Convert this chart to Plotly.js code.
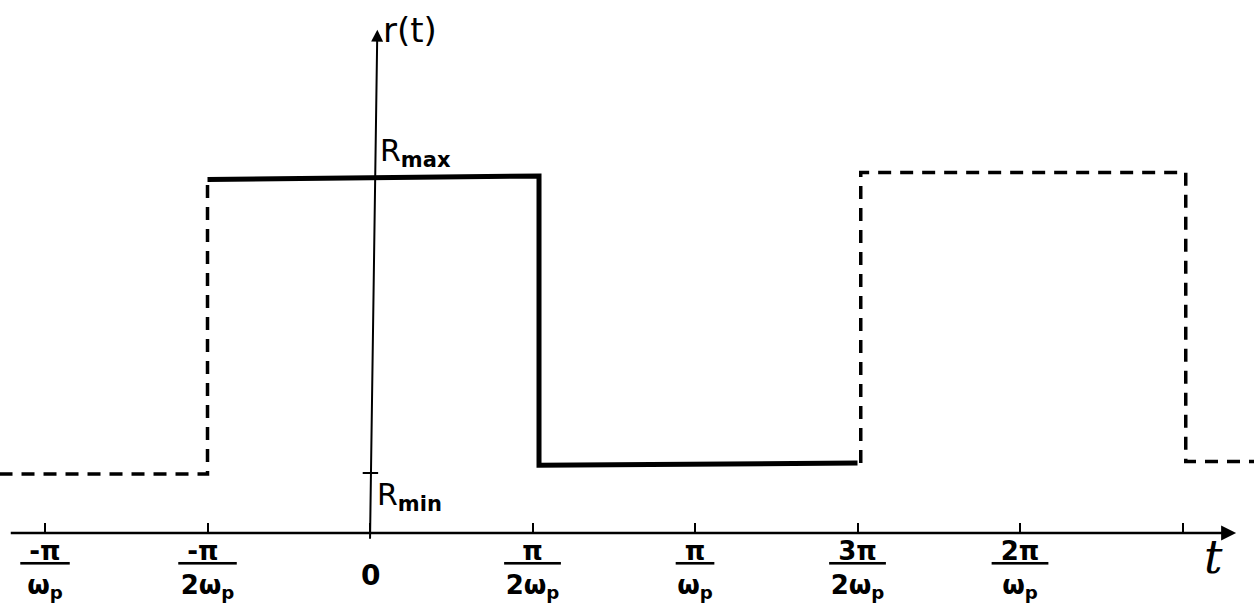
<!DOCTYPE html>
<html>
<head>
<meta charset="utf-8">
<script src="https://cdn.plot.ly/plotly-3.0.1.min.js"></script>
<style>
  html, body { margin: 0; padding: 0; background: #fff; }
  #chart { width: 1254px; height: 610px; }
</style>
</head>
<body>
<div id="chart"></div>
<script>
// time in units of pi/(2*omega_p); r(t) normalised so R_max ~ 1
const solidT = [-1.0, 1.04, 1.04, 3.0];
const solidR = [0.99, 1.0, 0.19, 0.196];
const leftDashT = [-2.28, -1.0, -1.0];
const leftDashR = [0.165, 0.165, 0.99];
const rightDashT = [3.02, 3.02, 5.02, 5.02, 5.45];
const rightDashR = [0.196, 1.01, 1.01, 0.2, 0.2];

const tickVals = [-2, -1, 0, 1, 2, 3, 4, 5];
const NB = '\u00A0';
const tickText = [
  '<u>' + NB + '-π' + NB + '</u><br>ω<sub>p</sub>',
  '<u>' + NB + '-π' + NB + NB + '</u><br>2ω<sub>p</sub>',
  '',
  '<u>' + NB + NB + 'π' + NB + NB + '</u><br>2ω<sub>p</sub>',
  '<u>' + NB + 'π' + NB + '</u><br>ω<sub>p</sub>',
  '<u>' + NB + '3π' + NB + '</u><br>2ω<sub>p</sub>',
  '<u>' + NB + '2π' + NB + '</u><br>ω<sub>p</sub>',
  ''
];
const Rmin = 0.168;
const Rmax = 1.0;
const axisTop = 1.41;
const axisRight = 5.33;
const axisLeft = -2.22;

const xRange = [-2.277, 5.44];
const yRange = [-0.2157, 1.493];
const xAxisPos = -yRange[0] / (yRange[1] - yRange[0]);

const traces = [
  { x: leftDashT, y: leftDashR, mode: 'lines', line: { color: '#000', width: 3.5, dash: '13px,9px' }, hoverinfo: 'skip' },
  { x: rightDashT, y: rightDashR, mode: 'lines', line: { color: '#000', width: 3.5, dash: '13px,9px' }, hoverinfo: 'skip' },
  { x: solidT, y: solidR, mode: 'lines', line: { color: '#000', width: 5 }, hoverinfo: 'skip' }
];

const labelFont = { family: 'DejaVu Sans', size: 26, color: '#000', weight: 'bold' };

const layout = {
  width: 1254, height: 610,
  margin: { l: 0, r: 0, t: 0, b: 0 },
  paper_bgcolor: '#fff', plot_bgcolor: '#fff',
  showlegend: false,
  xaxis: {
    range: xRange, anchor: 'free', position: xAxisPos,
    showgrid: false, zeroline: false, showline: false,
    tickmode: 'array', tickvals: tickVals, ticktext: tickText,
    ticks: 'inside', ticklen: 10, tickwidth: 2, tickcolor: '#000',
    tickfont: labelFont, automargin: false, fixedrange: true
  },
  yaxis: {
    range: yRange, visible: false, fixedrange: true
  },
  shapes: [
    { type: 'line', xref: 'x', yref: 'y', x0: -0.045, x1: 0.05, y0: Rmin, y1: Rmin, line: { color: '#000', width: 2 } }
  ],
  annotations: [
    { x: axisRight, y: 0, ax: axisLeft, ay: 0, xref: 'x', yref: 'y', axref: 'x', ayref: 'y', text: '', showarrow: true, arrowhead: 2, arrowsize: 1.2, arrowwidth: 2.5, arrowcolor: '#000' },
    { x: 0.045, y: axisTop, ax: 0, ay: -0.02, xref: 'x', yref: 'y', axref: 'x', ayref: 'y', text: '', showarrow: true, arrowhead: 2, arrowsize: 1.2, arrowwidth: 2, arrowcolor: '#000' },
    { x: 0.07, y: axisTop, xref: 'x', yref: 'y', xanchor: 'left', yanchor: 'middle', text: 'r(t)', showarrow: false, font: { family: 'DejaVu Sans', size: 34, color: '#000' } },
    { x: 0.05, y: Rmax, xref: 'x', yref: 'y', xanchor: 'left', yanchor: 'bottom', yshift: 2, text: 'R<sub><b>max</b></sub>', showarrow: false, font: { family: 'DejaVu Sans', size: 30, color: '#000' } },
    { x: 0.03, y: Rmin, xref: 'x', yref: 'y', xanchor: 'left', yanchor: 'top', yshift: -2, text: 'R<sub><b>min</b></sub>', showarrow: false, font: { family: 'DejaVu Sans', size: 30, color: '#000' } },
    { x: 0, y: 0, xref: 'x', yref: 'y', xanchor: 'center', yanchor: 'middle', yshift: -42, text: '0', showarrow: false, font: { family: 'DejaVu Sans', size: 28, color: '#000', weight: 'bold' } },
    { x: axisRight - 0.14, y: 0, xref: 'x', yref: 'y', xanchor: 'center', yanchor: 'middle', yshift: -24, text: '<i>t</i>', showarrow: false, font: { family: 'DejaVu Serif', size: 46, color: '#000' } }
  ]
};

Plotly.newPlot('chart', traces, layout, { staticPlot: true, displayModeBar: false });
</script>
</body>
</html>
